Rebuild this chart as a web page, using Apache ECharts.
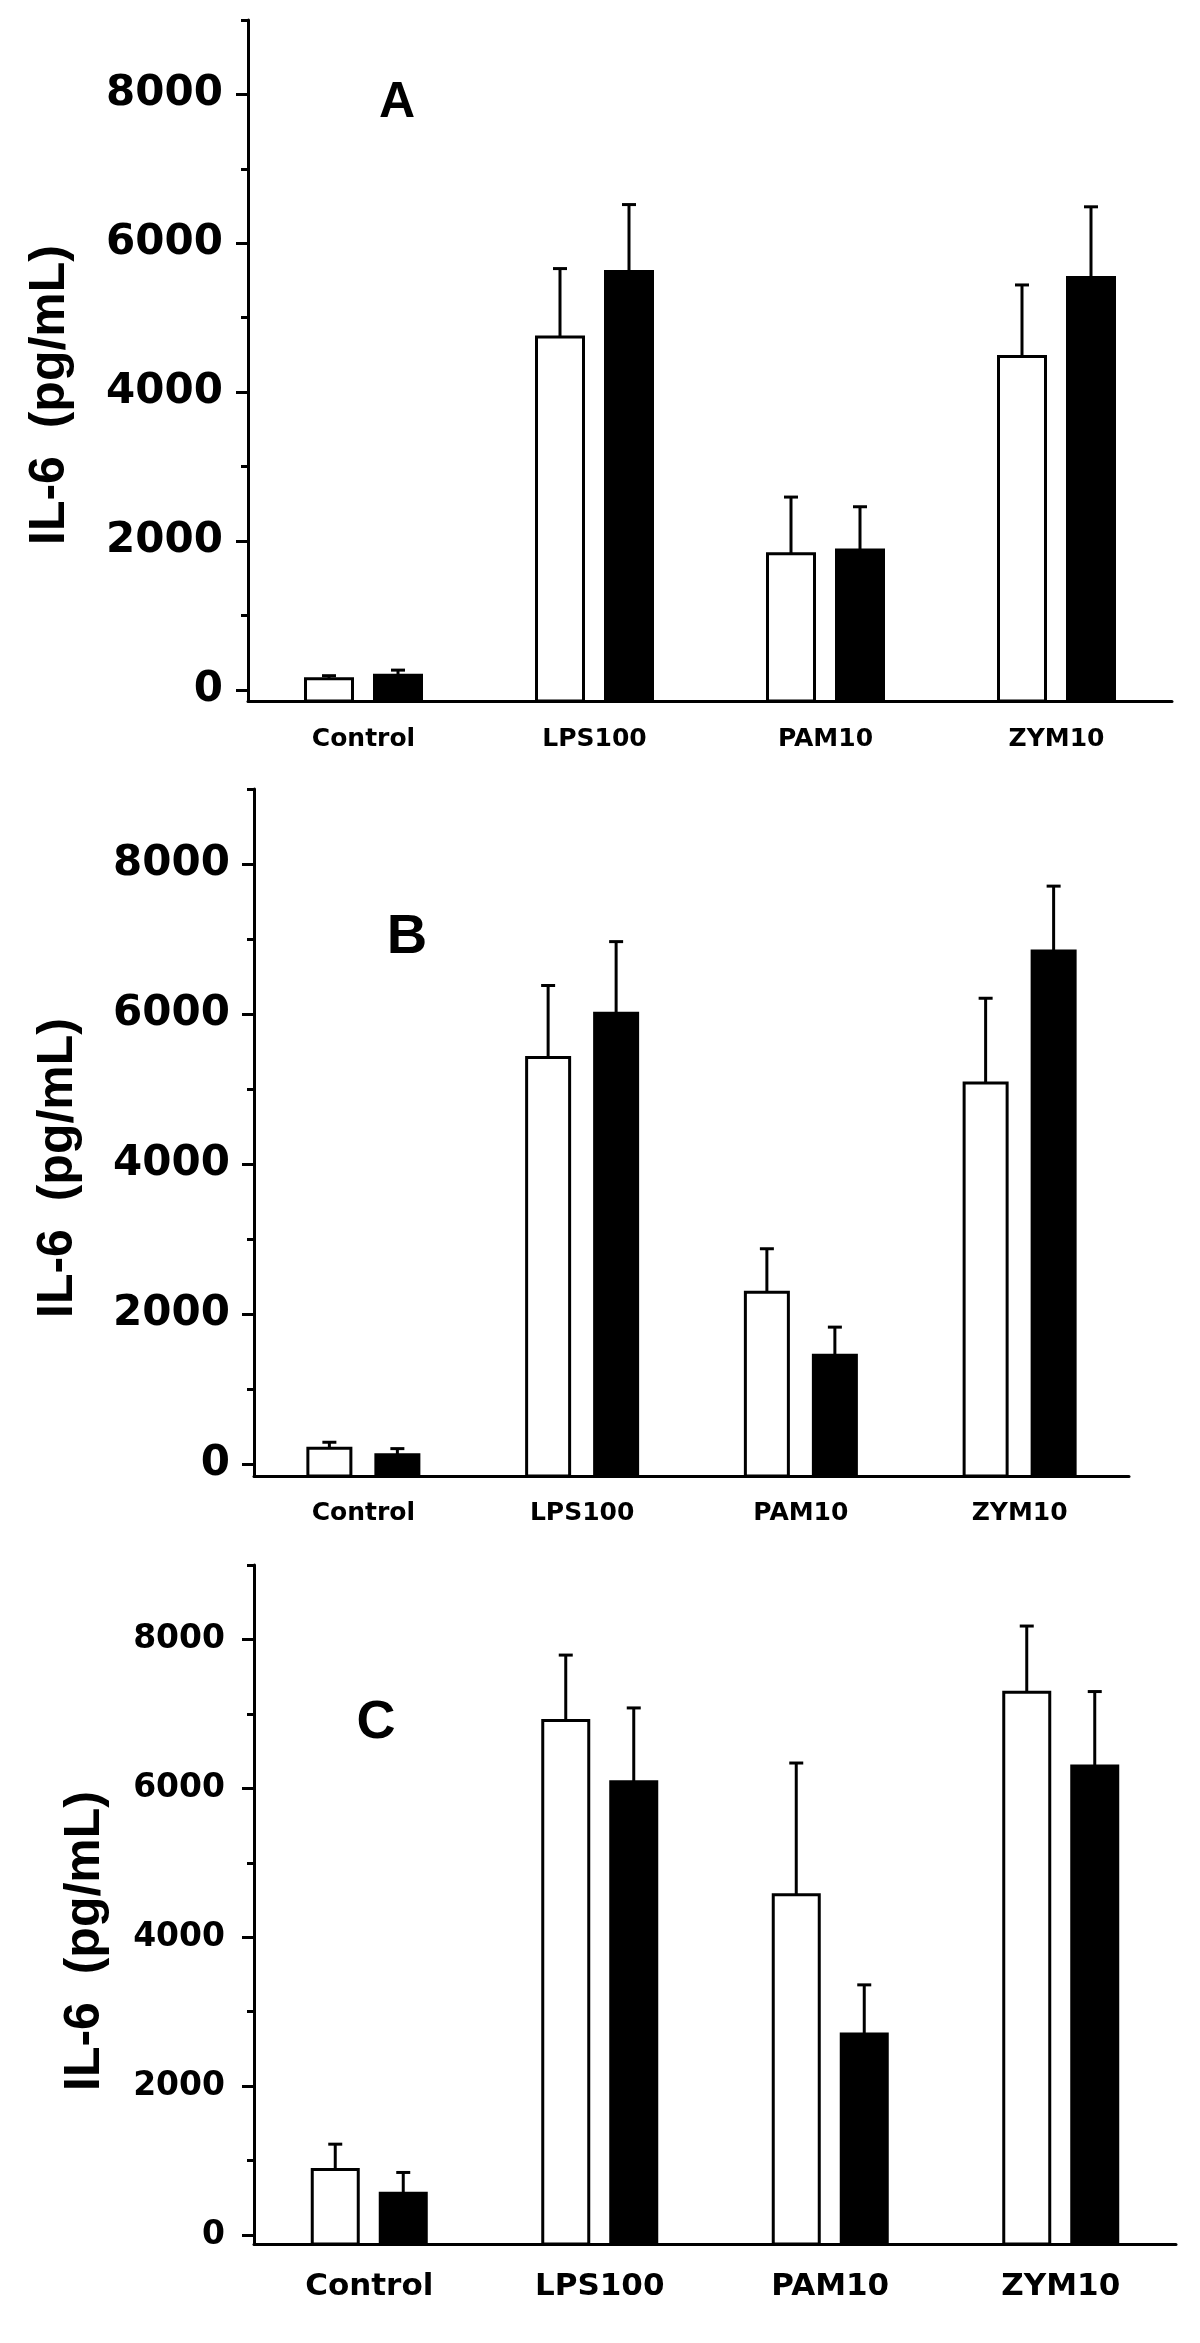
<!DOCTYPE html>
<html>
<head>
<meta charset="utf-8">
<title>IL-6</title>
<script src="https://cdn.jsdelivr.net/npm/echarts@6/dist/echarts.min.js"></script>
<style>
  html, body { margin: 0; padding: 0; background: #fff; }
  #chart { width: 1200px; height: 2343px; }
</style>
</head>
<body>
<div id="chart"></div>
<script>
// categories and axis ticks
const categories = ['Control', 'LPS100', 'PAM10', 'ZYM10'];
const majorTicks = [0, 2000, 4000, 6000, 8000];
const minorTicks = [1000, 3000, 5000, 7000, 9000];
const panelLetters = ['A', 'B', 'C'];
const yTitle = 'IL-6  (pg/mL)';

// panel A (open = white bars, filled = black bars), means and SD
const aOpen = [150, 4740, 1830, 4480];
const aOpenErr = [40, 920, 760, 960];
const aFilled = [195, 5620, 1880, 5540];
const aFilledErr = [70, 900, 580, 950];

// panel B
const bOpen = [210, 5420, 2290, 5080];
const bOpenErr = [80, 960, 580, 1130];
const bFilled = [125, 6010, 1450, 6840];
const bFilledErr = [80, 955, 375, 865];

// panel C
const cOpen = [880, 6910, 4570, 7290];
const cOpenErr = [340, 880, 1770, 890];
const cFilled = [560, 6090, 2700, 6300];
const cFilledErr = [280, 990, 660, 1000];

const panelData = [
  [aOpen, aOpenErr, aFilled, aFilledErr],
  [bOpen, bOpenErr, bFilled, bFilledErr],
  [cOpen, cOpenErr, cFilled, cFilledErr]
];

// layout of each panel (pixels)
const layouts = [
  { left: 248, top: 20, width: 924, height: 681, yMin: -150, yFont: 42, yMargin: 25, xFont: 25, xMargin: 26, barW: 47, shift: 34.5,
    title: [50, 395], letter: [397, 103], letterSize: 50 },
  { left: 254, top: 789, width: 875, height: 687, yMin: -160, yFont: 42, yMargin: 24, xFont: 25, xMargin: 25, barW: 43, shift: 34,
    title: [58, 1168], letter: [407, 938], letterSize: 56 },
  { left: 254, top: 1565, width: 922, height: 679, yMin: -121, yFont: 33, yMargin: 29, xFont: 31, xMargin: 27, barW: 46, shift: 34,
    title: [85, 1941], letter: [376, 1723], letterSize: 54 }
];

const tickFont = 'DejaVu Sans';
const line = { color: '#000', width: 3 };

function makeRender(shift, barW, fill) {
  return function (params, api) {
    const i = api.value(0), v = api.value(1), e = api.value(2);
    const top = api.coord([i, v]);
    const tip = api.coord([i, v + e]);
    const cs = params.coordSys;
    const base = cs.y + cs.height;
    const cx = top[0] + shift;
    return {
      type: 'group',
      children: [
        { type: 'rect', shape: { x: cx - barW / 2, y: top[1], width: barW, height: base - top[1] },
          style: { fill: fill, stroke: '#000', lineWidth: 3 } },
        { type: 'line', shape: { x1: cx, y1: top[1], x2: cx, y2: tip[1] }, style: { stroke: '#000', lineWidth: 3 } },
        { type: 'line', shape: { x1: cx - 7, y1: tip[1], x2: cx + 7, y2: tip[1] }, style: { stroke: '#000', lineWidth: 3 } }
      ]
    };
  };
}

const grid = [], xAxis = [], yAxis = [], series = [], graphic = [];

layouts.forEach(function (L, p) {
  grid.push({ left: L.left, top: L.top, width: L.width, height: L.height });
  xAxis.push({
    type: 'category', gridIndex: p, data: categories, boundaryGap: true,
    axisLine: { onZero: false, lineStyle: line },
    axisTick: { alignWithLabel: true, length: 12, lineStyle: line },
    axisLabel: { color: '#000', fontFamily: tickFont, fontWeight: 'bold', fontSize: L.xFont, margin: L.xMargin },
    splitLine: { show: false }
  });
  // major ticks with labels
  yAxis.push({
    type: 'value', gridIndex: p, min: L.yMin, max: 9000,
    axisLine: { show: true, lineStyle: line },
    axisTick: { show: true, length: 12, lineStyle: line, customValues: majorTicks },
    axisLabel: { color: '#000', fontFamily: tickFont, fontWeight: 'bold', fontSize: L.yFont, margin: L.yMargin,
      customValues: majorTicks, formatter: function (v) { return String(v); } },
    splitLine: { show: false }
  });
  // minor ticks
  yAxis.push({
    type: 'value', gridIndex: p, min: L.yMin, max: 9000, position: 'left',
    axisLine: { show: false },
    axisTick: { show: true, length: 7, lineStyle: line, customValues: minorTicks },
    axisLabel: { show: false },
    splitLine: { show: false }
  });

  const d = panelData[p];
  const groups = [[d[0], d[1], '#fff', -L.shift], [d[2], d[3], '#000', L.shift]];
  groups.forEach(function (g, k) {
    series.push({
      type: 'custom', name: panelLetters[p] + k, xAxisIndex: p, yAxisIndex: p * 2,
      renderItem: makeRender(g[3], L.barW, g[2]),
      data: categories.map(function (c, i) { return [i, g[0][i], g[1][i]]; }),
      z: 3
    });
  });

  graphic.push({
    type: 'text', x: L.title[0], y: L.title[1], rotation: Math.PI / 2,
    style: { text: yTitle, fill: '#000', font: 'bold 50px "Liberation Sans"',
      align: 'center', verticalAlign: 'middle', textAlign: 'center', textVerticalAlign: 'middle' }
  });
  graphic.push({
    type: 'text', x: L.letter[0], y: L.letter[1],
    style: { text: panelLetters[p], fill: '#000', font: 'bold ' + L.letterSize + 'px "Liberation Sans"',
      align: 'center', verticalAlign: 'middle', textAlign: 'center', textVerticalAlign: 'middle' }
  });
});

const chart = echarts.init(document.getElementById('chart'));
chart.setOption({
  backgroundColor: '#fff',
  animation: false,
  grid: grid,
  xAxis: xAxis,
  yAxis: yAxis,
  series: series,
  graphic: graphic
});
</script>
</body>
</html>
